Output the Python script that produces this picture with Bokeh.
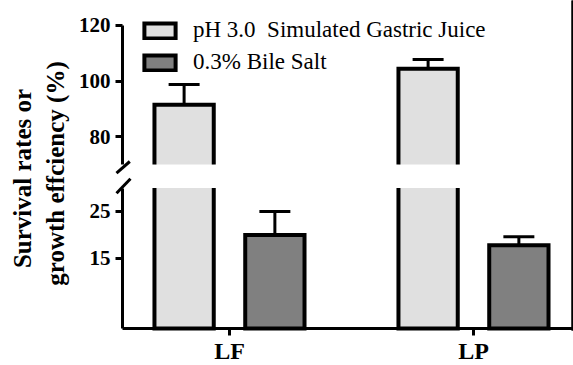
import numpy as np
from bokeh.plotting import figure
from bokeh.models import (Range1d, LinearAxis, FixedTicker, Legend, LegendItem, Label, Arrow)
from bokeh.embed import file_html
from bokeh.resources import INLINE

# ---------------- data ----------------
categories = ["LF", "LP"]
series_names = ["pH 3.0  Simulated Gastric Juice", "0.3% Bile Salt"]
gastric = [91.5, 104.4]
gastric_err = [7.3, 3.4]
bile = [20.0, 17.8]
bile_err = [5.0, 1.8]
upper_ticks = [80, 100, 120]
lower_ticks = [15, 25]
lower_segment = (0, 30)
upper_segment = (70, 120)
y_title = ["Survival rates or", "growth effciency (%)"]

# ---------------- style ----------------
FONT = "Liberation Serif"
LIGHT = "#e0e0e0"
DARK = "#808080"
OFFSET = 0.186
BAR_W = 0.243
CAP_W = 0.127
X0, X1 = 0.0615, 2.4099      # full canvas width
YAX = 0.5615                 # where the y axis sits

xpos = np.arange(1, len(categories) + 1)

p = figure(frame_width=573, frame_height=365,
           min_border_left=0, min_border_right=0, min_border_top=0, min_border_bottom=0,
           x_range=Range1d(X0, X1), y_range=Range1d(-7.906, 70.085),
           output_backend="svg", toolbar_location=None,
           x_axis_location=None, y_axis_location=None)
p.extra_y_ranges = {"upper": Range1d(-2.30, 128.99)}
# off-screen range used only to give the legend its key glyph
p.extra_x_ranges = {"key": Range1d(-4, -3)}
p.outline_line_color = None
p.grid.visible = False
p.background_fill_color = "white"
p.border_fill_color = "white"

# x axis
xa = LinearAxis(ticker=FixedTicker(ticks=[float(x) for x in xpos]),
                fixed_location=0, bounds=(YAX, X1))
xa.major_label_overrides = {float(x): c for x, c in zip(xpos, categories)}
xa.axis_line_width = 3
xa.major_tick_line_width = 3
xa.major_tick_out = 7
xa.major_tick_in = 0
xa.minor_tick_out = 0
xa.minor_tick_in = 0
xa.major_label_text_font = FONT
xa.major_label_text_font_style = "bold"
xa.major_label_text_font_size = "24px"
xa.major_label_text_color = "black"
xa.major_label_standoff = 3
p.add_layout(xa, "below")

# y axes (broken)
def style_y(ax):
    ax.axis_line_width = 3
    ax.major_tick_line_width = 3
    ax.major_tick_out = 7
    ax.major_tick_in = 0
    ax.minor_tick_out = 0
    ax.minor_tick_in = 0
    ax.major_label_text_font = FONT
    ax.major_label_text_font_style = "bold"
    ax.major_label_text_font_size = "21px"
    ax.major_label_text_color = "black"
    ax.major_label_standoff = 5

ya_low = LinearAxis(ticker=FixedTicker(ticks=lower_ticks), bounds=lower_segment,
                    fixed_location=YAX)
ya_up = LinearAxis(y_range_name="upper", ticker=FixedTicker(ticks=upper_ticks),
                   bounds=upper_segment, fixed_location=YAX)
style_y(ya_low)
style_y(ya_up)
p.add_layout(ya_low, "left")
p.add_layout(ya_up, "left")

# light bars (split at the break)
gx = xpos - OFFSET
gl = gx - BAR_W / 2
gr = gx + BAR_W / 2
g_low_top = np.minimum(gastric, lower_segment[1])

p.vbar(x=gx, width=BAR_W, bottom=upper_segment[0], top=gastric, y_range_name="upper",
       fill_color=LIGHT, line_color=None)
p.vbar(x=gx, width=BAR_W, bottom=0, top=g_low_top, fill_color=LIGHT, line_color=None)
p.multi_line(xs=[[l, l, r, r] for l, r in zip(gl, gr)],
             ys=[[upper_segment[0], v, v, upper_segment[0]] for v in gastric],
             y_range_name="upper", line_color="black", line_width=4, line_join="miter")
p.multi_line(xs=[[l, l, r, r] for l, r in zip(gl, gr)],
             ys=[[t, 0, 0, t] for t in g_low_top],
             line_color="black", line_width=4, line_join="miter")

# dark bars
bx = xpos + OFFSET
r_bile = p.vbar(x=bx, width=BAR_W, bottom=0, top=bile, fill_color=DARK,
                line_color="black", line_width=4, line_join="miter")

# error bars (upper only)
g_hi = np.array(gastric) + np.array(gastric_err)
b_hi = np.array(bile) + np.array(bile_err)
p.segment(x0=gx, y0=gastric, x1=gx, y1=g_hi, y_range_name="upper", line_color="black", line_width=3)
p.segment(x0=gx - CAP_W / 2, y0=g_hi, x1=gx + CAP_W / 2, y1=g_hi, y_range_name="upper",
          line_color="black", line_width=3)
p.segment(x0=bx, y0=bile, x1=bx, y1=b_hi, line_color="black", line_width=3)
p.segment(x0=bx - CAP_W / 2, y0=b_hi, x1=bx + CAP_W / 2, y1=b_hi, line_color="black", line_width=3)

# legend key for the light series (drawn on an off-screen x range)
r_light_key = p.vbar(x=gx, width=BAR_W, top=gastric, bottom=0, x_range_name="key",
                     fill_color=LIGHT, line_color="black", line_width=4, line_join="miter")
legend = Legend(items=[LegendItem(label=series_names[0], renderers=[r_light_key]),
                       LegendItem(label=series_names[1], renderers=[r_bile])],
                location=(140, 290), orientation="vertical", padding=0, margin=0,
                spacing=6, glyph_width=39, glyph_height=19, label_standoff=14,
                label_text_font=FONT, label_text_font_size="23px",
                label_text_color="black",
                border_line_color=None, background_fill_alpha=0)
p.add_layout(legend)

# y title (two lines)
p.add_layout(Label(x=22, y=178, x_units="canvas", y_units="canvas", text=y_title[0],
                   angle=90, angle_units="deg", text_align="center", text_baseline="middle",
                   text_font=FONT, text_font_style="bold", text_font_size="25px",
                   text_color="black"))
p.add_layout(Label(x=55, y=173, x_units="canvas", y_units="canvas", text=y_title[1],
                   angle=90, angle_units="deg", text_align="center", text_baseline="middle",
                   text_font=FONT, text_font_style="bold", text_font_size="25px",
                   text_color="black"))

# axis break marks
p.add_layout(Arrow(end=None, x_start=116, y_start=172.7, x_end=129.3, y_end=161,
                   start_units="canvas", end_units="canvas", line_width=3, line_color="black"))
p.add_layout(Arrow(end=None, x_start=116, y_start=192.7, x_end=130, y_end=178.3,
                   start_units="canvas", end_units="canvas", line_width=3, line_color="black"))

open("out.html", "w").write(file_html(p, INLINE))
